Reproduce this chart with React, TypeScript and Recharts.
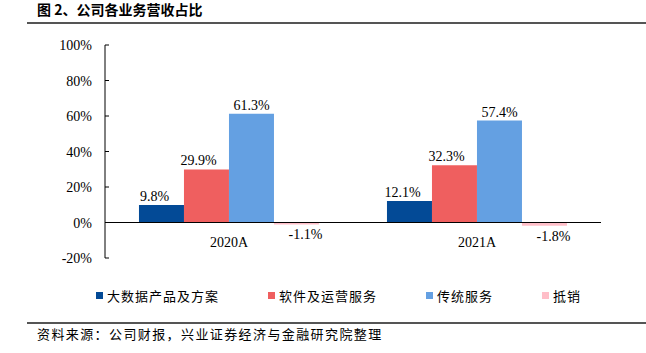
import React from 'react';
import { BarChart, Bar, XAxis, YAxis, ReferenceLine, LabelList } from 'recharts';

const categories = ['2020A', '2021A'];
const bigData = [9.8, 12.1];
const software = [29.9, 32.3];
const traditional = [61.3, 57.4];
const offsetVals = [-1.1, -1.8];
const yTicks = [-20, 0, 20, 40, 60, 80, 100];
const seriesNames = ['大数据产品及方案', '软件及运营服务', '传统服务', '抵销'];
const seriesKeys = ['s0', 's1', 's2', 's3'];
const colors = ['#034A96', '#EF5F5F', '#64A0E2', '#FFBEC8'];
const labelDx = [-7, -8, 0, 9];

const data = categories.map((c, i) => ({
  name: c,
  s0: bigData[i],
  s1: software[i],
  s2: traditional[i],
  s3: offsetVals[i],
}));

const SERIF = "'Liberation Serif', 'DejaVu Serif', 'Times New Roman', serif";
const CJK = "'Noto Sans CJK SC', sans-serif";
const serifStyle = { fontFamily: SERIF, fontSize: 14 };

const makeLabel = (idx: number) => (props: any) => {
  const { x, y, width, height, value } = props;
  const top = Math.min(y, y + height);
  const bottom = Math.max(y, y + height);
  const cx = x + width / 2 + labelDx[idx];
  const ty = value >= 0 ? top - 4 : bottom + 15;
  return (
    <text x={cx} y={ty} textAnchor="middle" fontFamily={SERIF} fontSize={14} style={serifStyle} fill="#000">
      {value.toFixed(1) + '%'}
    </text>
  );
};

const YTick = (props: any) => {
  const { x, y, payload } = props;
  return (
    <g>
      <line x1={x} x2={x + 4} y1={y} y2={y} stroke="#000" strokeWidth={1} />
      <text x={x - 13} y={y + 5} textAnchor="end" fontFamily={SERIF} fontSize={14} style={serifStyle} fill="#000">
        {payload.value + '%'}
      </text>
    </g>
  );
};

const XTick = (props: any) => {
  const { x, y, payload } = props;
  return (
    <text x={x} y={y - 11} textAnchor="middle" fontFamily={SERIF} fontSize={14} style={serifStyle} fill="#000">
      {payload.value}
    </text>
  );
};

export default function App() {
  return (
    <div style={{ position: 'absolute', left: 0, top: 0, width: 646, height: 353, background: '#fff', overflow: 'hidden' }}>
      <div style={{ position: 'absolute', left: 37, top: 2, fontFamily: CJK, fontWeight: 700, fontSize: 14, lineHeight: '15px', color: '#000', whiteSpace: 'nowrap' }}>
        图 2、公司各业务营收占比
      </div>
      <div style={{ position: 'absolute', left: 27, top: 22, width: 619, height: 1.5, background: '#555' }} />
      <div style={{ position: 'absolute', left: 0, top: 0 }}>
        <BarChart
          width={646}
          height={353}
          data={data}
          margin={{ top: 45, right: 45, bottom: 65, left: 0 }}
          barCategoryGap="13.7%"
          barGap={0}
        >
          <XAxis
            dataKey="name"
            axisLine={false}
            tickLine={false}
            tickSize={0}
            tickMargin={0}
            height={30}
            tick={<XTick />}
            interval={0}
          />
          <YAxis
            width={105}
            domain={[-20, 100]}
            ticks={yTicks}
            interval={0}
            axisLine={{ stroke: '#000', strokeWidth: 1 }}
            tickLine={false}
            tickSize={0}
            tickMargin={0}
            tick={<YTick />}
          />
          <ReferenceLine y={0} stroke="#000" strokeWidth={1.2} />
          {seriesKeys.map((k, i) => (
            <Bar key={k} dataKey={k} fill={colors[i]} isAnimationActive={false}>
              <LabelList dataKey={k} content={makeLabel(i)} />
            </Bar>
          ))}
        </BarChart>
      </div>
      <div style={{ position: 'absolute', left: 96, top: 286, display: 'flex', alignItems: 'center', fontFamily: CJK, fontSize: 13, letterSpacing: 1, color: '#000', whiteSpace: 'nowrap' }}>
        {seriesNames.map((n, i) => (
          <div key={n} style={{ display: 'flex', alignItems: 'center', marginRight: 49 }}>
            <div style={{ width: 7, height: 7, background: colors[i], marginRight: 4 }} />
            <span>{n}</span>
          </div>
        ))}
      </div>
      <div style={{ position: 'absolute', left: 27, top: 322, width: 619, height: 1.5, background: '#555' }} />
      <div style={{ position: 'absolute', left: 37, top: 325, fontFamily: CJK, fontSize: 13, letterSpacing: 1.4, lineHeight: '18px', color: '#000', whiteSpace: 'nowrap' }}>
        资料来源：公司财报，兴业证券经济与金融研究院整理
      </div>
    </div>
  );
}
